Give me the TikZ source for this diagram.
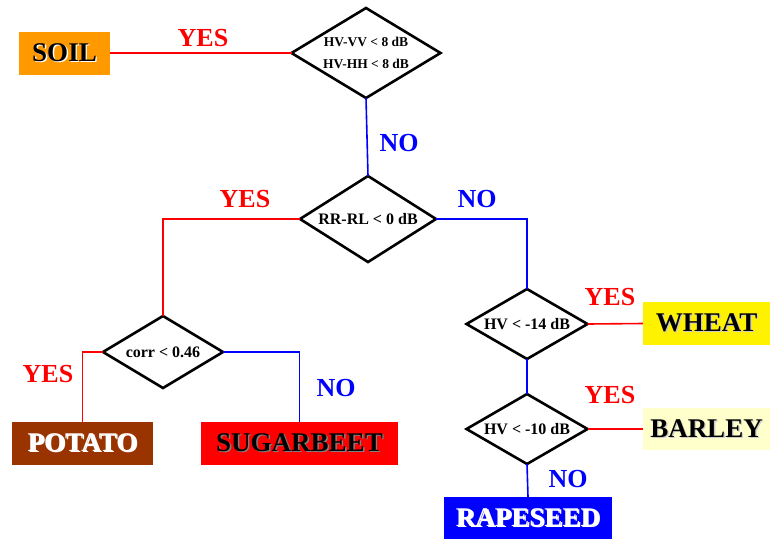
\documentclass[tikz,border=0pt]{standalone}
\usepackage{fontspec}
\setmainfont{Liberation Serif}
\usetikzlibrary{shapes.geometric}
\definecolor{soilc}{HTML}{FF9900}
\definecolor{potatoc}{HTML}{993300}
\definecolor{barleyc}{HTML}{FFFFCC}
\newcommand{\shtxt}[2]{\makebox[0pt][l]{\kern1.3pt\raisebox{-1.3pt}{\textcolor{#1}{#2}}}#2}
\tikzset{
  test/.style={diamond,aspect=1.65,draw,line width=2.6pt,inner sep=0pt,outer sep=0pt,font=\bfseries\fontsize{16}{18}\selectfont},
  crop/.style={rectangle,inner sep=0pt,minimum height=43pt,font=\bfseries\fontsize{27}{28}\selectfont},
  yes/.style={text=red,font=\bfseries\fontsize{26}{28}\selectfont},
  no/.style={text=blue,font=\bfseries\fontsize{26}{28}\selectfont},
  ylink/.style={draw=red,line width=1.6pt},
  nlink/.style={draw=blue,line width=1.6pt}
}
\begin{document}
\begin{tikzpicture}[x=1pt,y=-1pt]
\useasboundingbox (0,0) rectangle (770,539);
% tests
\node[test,minimum width=149pt,minimum height=90pt,font=\bfseries\fontsize{13.5}{22}\selectfont,align=center] (hvvv) at (366,53) {HV-VV < 8 dB\\HV-HH < 8 dB};
\node[test,minimum width=136pt,minimum height=86pt] (rrrl) at (368,219) {RR-RL < 0 dB};
\node[test,minimum width=120pt,minimum height=72pt] (corr) at (163,352) {corr < 0.46};
\node[test,minimum width=121pt,minimum height=70pt] (hva) at (527,324) {HV < -14 dB};
\node[test,minimum width=121pt,minimum height=70pt] (hvb) at (527,429) {HV < -10 dB};
% classes
\node[crop,fill=soilc,minimum width=91pt] (soil) at (64.5,53) {\shtxt{white}{SOIL}};
\node[crop,fill=potatoc,minimum width=141pt] (potato) at (82.5,443.5) {\shtxt{black}{\textcolor{white}{POTATO}}};
\node[crop,fill=red,minimum width=197pt] (sugar) at (299.5,443.5) {\shtxt{gray}{SUGARBEET}};
\node[crop,fill=yellow,minimum width=127pt] (wheat) at (706.5,323.5) {\shtxt{gray!40}{WHEAT}};
\node[crop,fill=barleyc,minimum width=127pt,minimum height=42pt] (barley) at (706.5,429) {\shtxt{gray!40}{BARLEY}};
\node[crop,fill=blue,minimum width=168pt,minimum height=42pt] (rape) at (528,518) {\shtxt{black}{\textcolor{white}{RAPESEED}}};
% links
\draw[ylink] (hvvv.west) -- (soil.east);
\draw[nlink] (hvvv.south) -- (rrrl.north);
\draw[ylink] (rrrl.west) -| (corr.north);
\draw[nlink] (rrrl.east) -| (hva.north);
\draw[ylink] (corr.west) -| (potato.north);
\draw[nlink] (corr.east) -| (sugar.north);
\draw[ylink] (hva.east) -- (wheat.west);
\draw[nlink] (hva.south) -- (hvb.north);
\draw[ylink] (hvb.east) -- (barley.west);
\draw[nlink] (hvb.south) -- (rape.north);
% answers
\node[yes] (y1) at (203,38) {YES};
\node[no] (n1) at (399,143) {NO};
\node[yes] (y2) at (245,199) {YES};
\node[no] (n2) at (477,199) {NO};
\node[yes] (y3) at (48,374) {YES};
\node[no] (n3) at (336,388) {NO};
\node[yes] (y4) at (610,297) {YES};
\node[yes] (y5) at (610,395) {YES};
\node[no] (n4) at (568,479) {NO};
\end{tikzpicture}
\end{document}
